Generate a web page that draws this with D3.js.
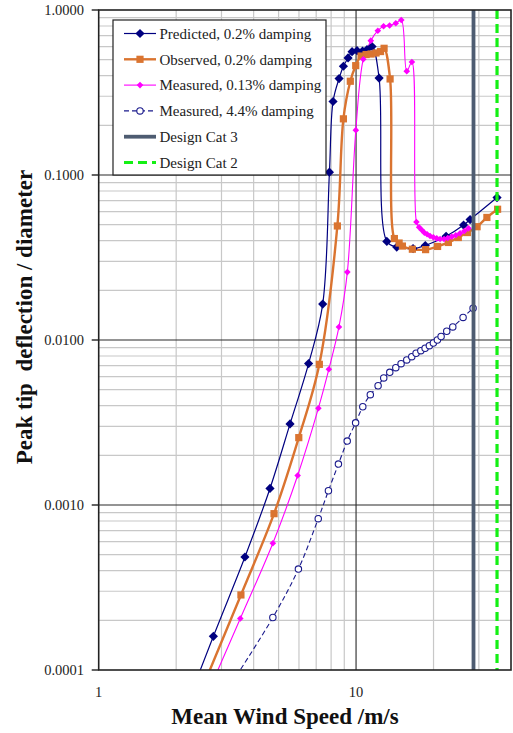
<!DOCTYPE html>
<html>
<head>
<meta charset="utf-8">
<script src="https://cdn.jsdelivr.net/npm/d3@7"></script>
<style>
  html, body { margin: 0; padding: 0; background: #ffffff; }
  svg { display: block; }
</style>
</head>
<body>
<div id="chart"></div>
<script>
// ---------------- DATA ----------------
const predictedX = [1.9, 2.79, 3.70, 4.63, 5.54, 6.54, 7.42, 7.88, 8.14, 8.59, 8.93, 9.31, 9.65, 10.09, 10.6, 11.03, 11.54, 12.29, 13.17, 14.39, 16.65, 18.58, 22.38, 26.17, 27.74, 35.3];
const predictedY = [0.000034, 0.00016, 0.000484, 0.00126, 0.0031, 0.0072, 0.0165, 0.104, 0.279, 0.384, 0.456, 0.512, 0.559, 0.567, 0.564, 0.576, 0.601, 0.387, 0.0396, 0.0366, 0.0358, 0.0374, 0.0425, 0.0497, 0.0537, 0.073];

const observedX = [2.4, 3.57, 4.80, 5.99, 7.20, 8.46, 8.93, 9.50, 9.97, 10.46, 10.94, 11.44, 11.96, 12.45, 12.85, 13.56, 14.09, 14.70, 15.14, 16.55, 18.63, 20.74, 22.84, 24.96, 27.07, 29.53, 32.24, 35.48];
const observedY = [0.000064, 0.000285, 0.000886, 0.00256, 0.00712, 0.0491, 0.219, 0.370, 0.460, 0.526, 0.537, 0.541, 0.549, 0.560, 0.586, 0.382, 0.0412, 0.0387, 0.0371, 0.0355, 0.0353, 0.0369, 0.0390, 0.0418, 0.0448, 0.0486, 0.0553, 0.0620];

const measured013X = [2.35, 3.55, 4.75, 5.93, 7.14, 7.84, 8.58, 9.25, 9.98, 10.67, 11.41, 12.15, 12.79, 13.50, 14.27, 14.99, 15.74, 16.48, 17.16, 17.58, 18.00, 18.43, 18.88, 19.39, 19.97, 20.58, 21.21, 21.98, 22.72, 23.54, 24.40, 25.36, 26.36, 27.33];
const measured013Y = [0.000047, 0.000205, 0.000586, 0.00151, 0.00386, 0.00665, 0.0120, 0.0258, 0.187, 0.503, 0.652, 0.749, 0.797, 0.806, 0.832, 0.870, 0.426, 0.484, 0.0519, 0.0482, 0.0464, 0.0447, 0.0437, 0.0427, 0.0419, 0.0413, 0.0409, 0.0409, 0.0415, 0.0423, 0.0431, 0.0443, 0.0458, 0.0475];

const measured44X = [3.3, 4.75, 5.97, 7.13, 7.81, 8.54, 9.24, 9.96, 10.62, 11.36, 12.18, 12.81, 13.52, 14.27, 14.96, 15.74, 16.46, 17.11, 17.85, 18.55, 19.27, 19.97, 20.70, 21.40, 22.51, 23.76, 26.05, 28.49];
const measured44Y = [0.000084, 0.000208, 0.000409, 0.000826, 0.00122, 0.00177, 0.00244, 0.00315, 0.00394, 0.00466, 0.00528, 0.00589, 0.00637, 0.00680, 0.00719, 0.00757, 0.00792, 0.00831, 0.00861, 0.00891, 0.00924, 0.00959, 0.0100, 0.0105, 0.0113, 0.0120, 0.0137, 0.0156];

const designCat3X = 28.6;
const designCat2X = 35.3;

const xDomain = [1, 40];
const yDomain = [0.0001, 1];
const xTickLabels = [1, 10];
const yTickLabels = [0.0001, 0.001, 0.01, 0.1, 1];
const xMinorGrid = [2, 3, 4, 5, 6, 7, 8, 9, 20, 30];
const xMajorGrid = [10];
const yMinorMult = [2, 3, 4, 5, 6, 7, 8, 9];
const yMajorGrid = [0.001, 0.01, 0.1];

const legendLabels = ["Predicted, 0.2% damping", "Observed, 0.2% damping", "Measured, 0.13% damping", "Measured, 4.4% damping", "Design Cat 3", "Design Cat 2"];

const xTitle = "Mean Wind Speed /m/s";
const yTitle = "Peak tip  deflection / diameter";

// ---------------- LAYOUT ----------------
const W = 513, H = 733;
const plot = { left: 98.7, right: 511, top: 10, bottom: 670 };
const FONT = "'Liberation Serif', 'Times New Roman', serif";

const COL_PRED = "#000080";
const COL_OBS = "#DA7430";
const COL_M13 = "#FF00FF";
const COL_M44 = "#1a1a8c";
const COL_CAT3 = "#4E5C71";
const COL_CAT2 = "#14F014";

const svg = d3.select("#chart").append("svg").attr("width", W).attr("height", H)
  .attr("font-family", FONT);

const x = d3.scaleLog().domain(xDomain).range([plot.left, plot.right]);
const y = d3.scaleLog().domain(yDomain).range([plot.bottom, plot.top]);

svg.append("defs").append("clipPath").attr("id", "clip")
  .append("rect").attr("x", plot.left).attr("y", plot.top)
  .attr("width", plot.right - plot.left).attr("height", plot.bottom - plot.top);

// grid
const grid = svg.append("g");
const yMinor = [];
[-4, -3, -2, -1].forEach(k => yMinorMult.forEach(m => yMinor.push(m * Math.pow(10, k))));

grid.selectAll(".vx").data(xMinorGrid).enter().append("line")
  .attr("x1", d => x(d)).attr("x2", d => x(d))
  .attr("y1", plot.top).attr("y2", plot.bottom)
  .attr("stroke", "#c8c8c8").attr("stroke-width", 1.2);
grid.selectAll(".hy").data(yMinor).enter().append("line")
  .attr("x1", plot.left).attr("x2", plot.right)
  .attr("y1", d => y(d)).attr("y2", d => y(d))
  .attr("stroke", "#c8c8c8").attr("stroke-width", 1.2);
grid.selectAll(".vxM").data(xMajorGrid).enter().append("line")
  .attr("x1", d => x(d)).attr("x2", d => x(d))
  .attr("y1", plot.top).attr("y2", plot.bottom)
  .attr("stroke", "#3a3a3a").attr("stroke-width", 1.2);
grid.selectAll(".hyM").data(yMajorGrid).enter().append("line")
  .attr("x1", plot.left).attr("x2", plot.right)
  .attr("y1", d => y(d)).attr("y2", d => y(d))
  .attr("stroke", "#2a2a2a").attr("stroke-width", 1.2);

// series
function pts(xs, ys) { return xs.map((v, i) => [v, ys[i]]); }
const line = d3.line().x(d => x(d[0])).y(d => y(d[1])).curve(d3.curveCatmullRom.alpha(0.5));
const data = svg.append("g").attr("clip-path", "url(#clip)");

function diamondPath(r) { return `M0,${-r}L${r},0L0,${r}L${-r},0Z`; }

const series = [
  { pts: pts(predictedX, predictedY), color: COL_PRED, width: 1.2, dash: null, marker: "diamond", r: 4.6 },
  { pts: pts(observedX, observedY), color: COL_OBS, width: 2.4, dash: null, marker: "square", r: 3.6 },
  { pts: pts(measured013X, measured013Y), color: COL_M13, width: 1.1, dash: null, marker: "diamond", r: 3.3 },
  { pts: pts(measured44X, measured44Y), color: COL_M44, width: 1.1, dash: "5,3", marker: "circle", r: 3.2 }
];

series.forEach(s => {
  data.append("path").attr("d", line(s.pts)).attr("fill", "none")
    .attr("stroke", s.color).attr("stroke-width", s.width)
    .attr("stroke-dasharray", s.dash);
});
function drawMarker(g, s, cx, cy) {
  if (s.marker === "diamond") {
    g.append("path").attr("d", diamondPath(s.r)).attr("transform", `translate(${cx},${cy})`).attr("fill", s.color);
  } else if (s.marker === "square") {
    g.append("rect").attr("x", cx - s.r).attr("y", cy - s.r).attr("width", 2 * s.r).attr("height", 2 * s.r).attr("fill", s.color);
  } else {
    g.append("circle").attr("cx", cx).attr("cy", cy).attr("r", s.r).attr("fill", "#fff").attr("stroke", s.color).attr("stroke-width", 1.1);
  }
}
series.forEach(s => {
  s.pts.forEach(p => drawMarker(data, s, x(p[0]), y(p[1])));
});

// design lines
data.append("line").attr("x1", x(designCat3X)).attr("x2", x(designCat3X))
  .attr("y1", y(yDomain[0])).attr("y2", y(yDomain[1]))
  .attr("stroke", COL_CAT3).attr("stroke-width", 3.8);
data.append("line").attr("x1", x(designCat2X)).attr("x2", x(designCat2X))
  .attr("y1", y(yDomain[1])).attr("y2", y(yDomain[0]))
  .attr("stroke", COL_CAT2).attr("stroke-width", 3.2).attr("stroke-dasharray", "9,5");

// plot border
svg.append("rect").attr("x", plot.left).attr("y", plot.top)
  .attr("width", plot.right - plot.left).attr("height", plot.bottom - plot.top)
  .attr("fill", "none").attr("stroke", "#222").attr("stroke-width", 1.6);

// y ticks + labels
const yAxisG = svg.append("g");
yAxisG.selectAll("line").data(yTickLabels).enter().append("line")
  .attr("x1", plot.left - 7).attr("x2", plot.left)
  .attr("y1", d => y(d)).attr("y2", d => y(d))
  .attr("stroke", "#222").attr("stroke-width", 1.4);
yAxisG.selectAll("text").data(yTickLabels).enter().append("text")
  .attr("x", 84).attr("y", d => y(d)).attr("dy", "0.35em")
  .attr("text-anchor", "end").attr("font-size", 14.5).attr("fill", "#222")
  .attr("font-family", FONT)
  .text(d => d3.format(".4f")(d));

// x labels
svg.append("g").selectAll("text").data(xTickLabels).enter().append("text")
  .attr("x", d => x(d)).attr("y", 697)
  .attr("text-anchor", "middle").attr("font-size", 14.5).attr("fill", "#222")
  .attr("font-family", FONT)
  .text(d => d);

// titles
svg.append("text").attr("x", 285).attr("y", 724).attr("text-anchor", "middle")
  .attr("font-family", FONT)
  .attr("font-size", 23).attr("font-weight", "bold").attr("fill", "#111").text(xTitle);
svg.append("text").attr("transform", "translate(32,317) rotate(-90)")
  .attr("font-family", FONT)
  .attr("text-anchor", "middle").attr("font-size", 23).attr("font-weight", "bold")
  .attr("fill", "#111").style("white-space", "pre").text(yTitle);

// legend
const lg = svg.append("g");
lg.append("rect").attr("x", 113).attr("y", 20).attr("width", 213).attr("height", 155)
  .attr("fill", "#fff").attr("stroke", "#222").attr("stroke-width", 1.2);
const legendItems = [
  { s: series[0] }, { s: series[1] }, { s: series[2] }, { s: series[3] },
  { color: COL_CAT3, width: 3.8, dash: null },
  { color: COL_CAT2, width: 3.2, dash: "9,5" }
];
legendItems.forEach((it, i) => {
  const cy = 33.5 + i * 25.8;
  const c = it.s ? it.s.color : it.color;
  const w = it.s ? it.s.width : it.width;
  const dsh = it.s ? it.s.dash : it.dash;
  lg.append("line").attr("x1", 124).attr("x2", 156).attr("y1", cy).attr("y2", cy)
    .attr("stroke", c).attr("stroke-width", w).attr("stroke-dasharray", dsh);
  if (it.s) drawMarker(lg, it.s, 140, cy);
  lg.append("text").attr("x", 159.5).attr("y", cy).attr("dy", "0.35em")
    .attr("font-family", FONT)
    .attr("font-size", 15).attr("fill", "#222").text(legendLabels[i]);
});
</script>
</body>
</html>
